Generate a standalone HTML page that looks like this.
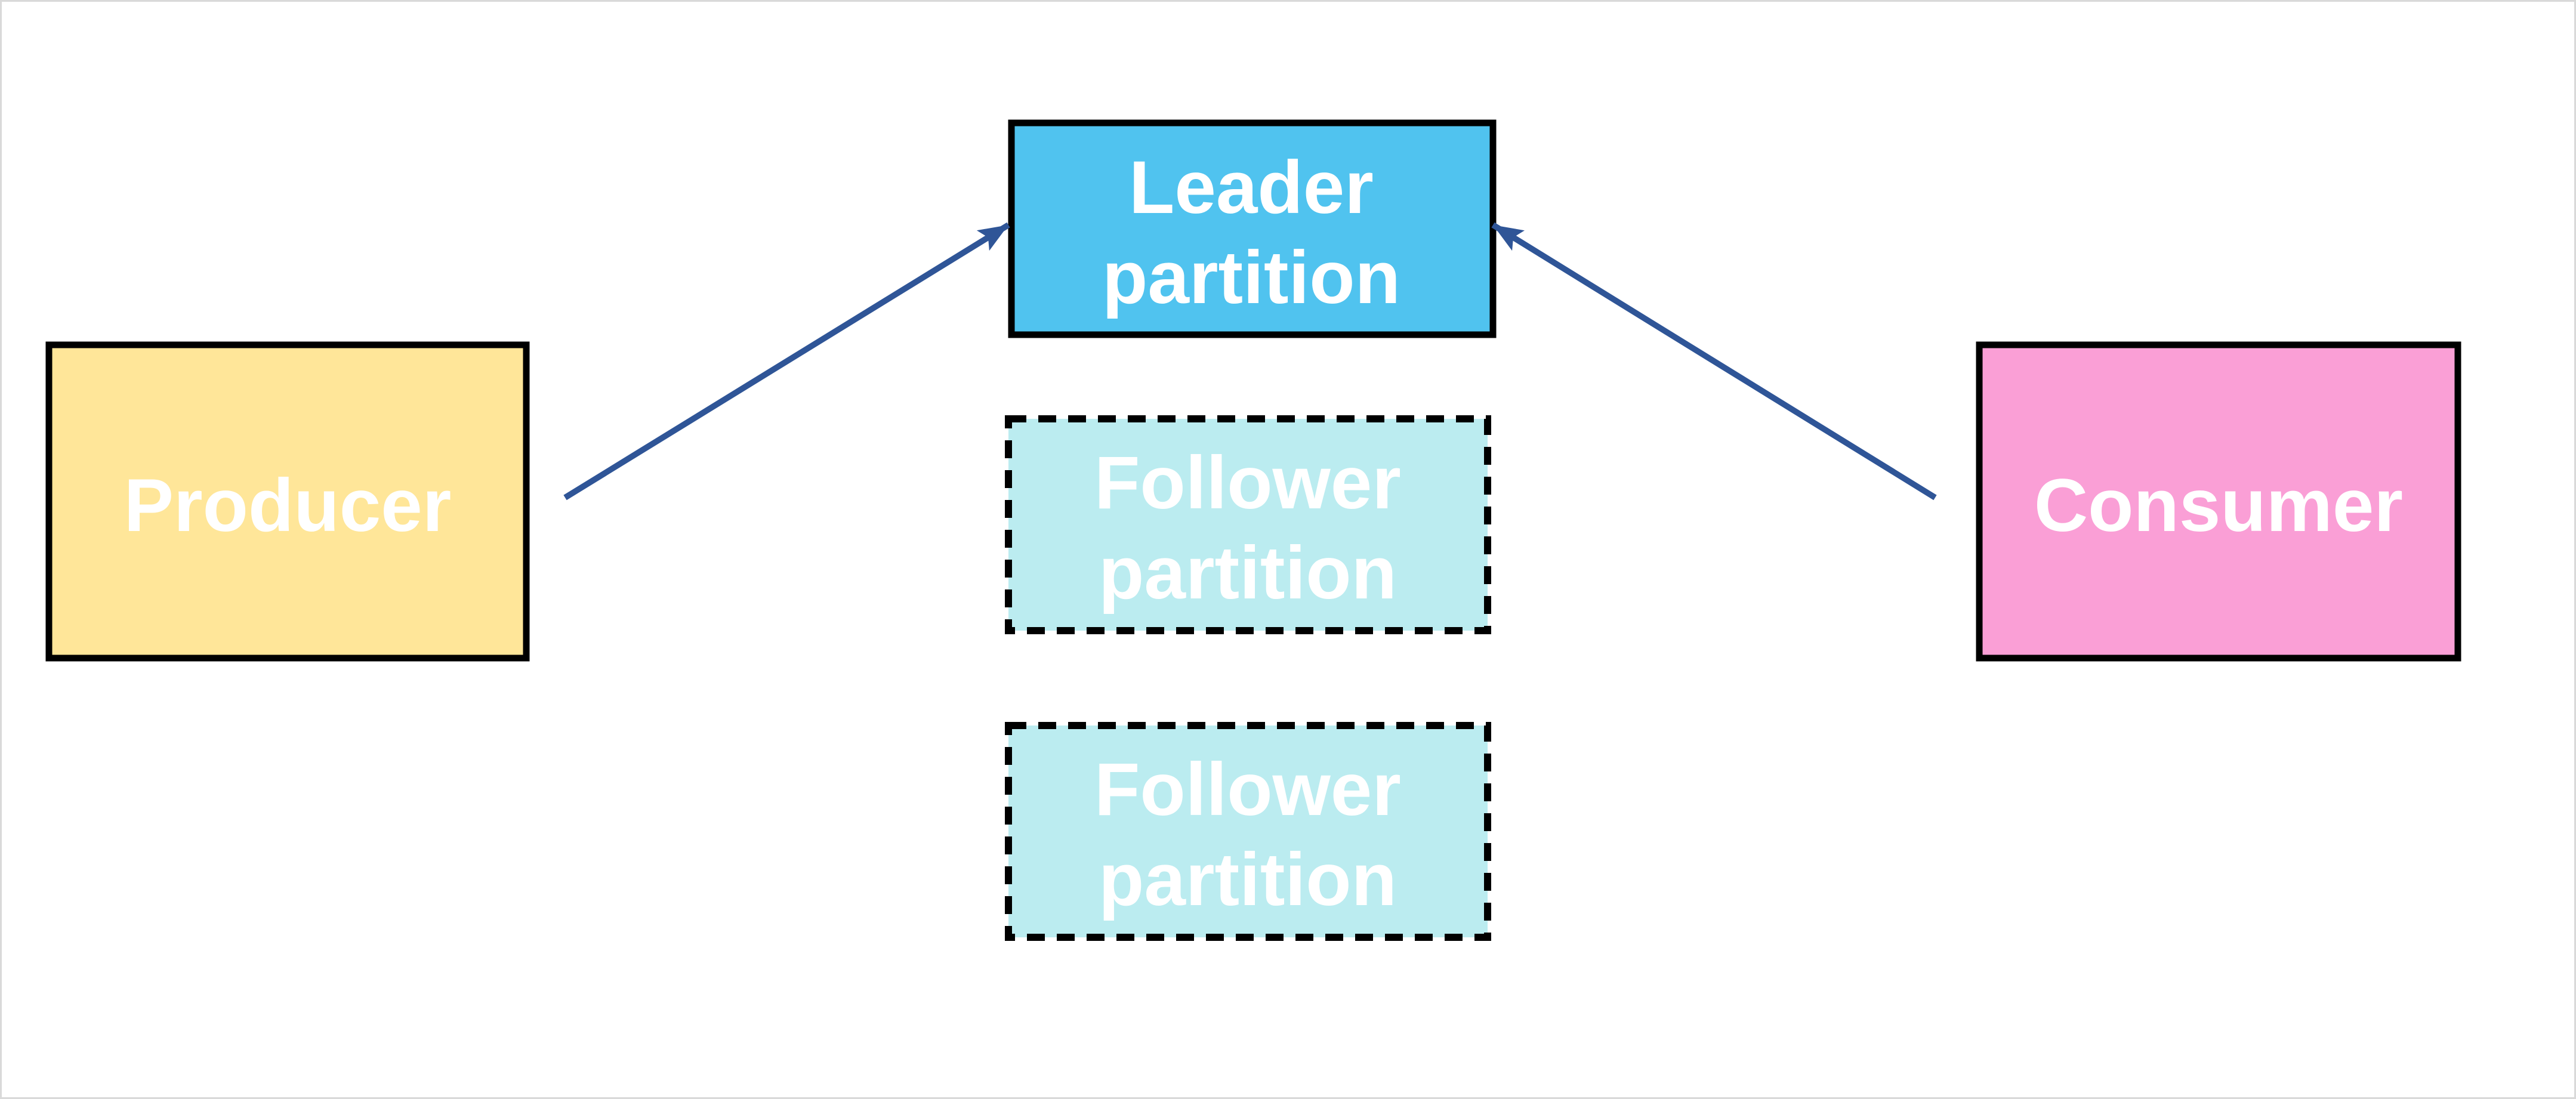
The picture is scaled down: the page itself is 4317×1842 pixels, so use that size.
<!DOCTYPE html>
<html><head><meta charset="utf-8"><style>
html,body{margin:0;padding:0;background:#fff;}
svg{display:block;}
text{font-family:"Liberation Sans","DejaVu Sans",sans-serif;font-weight:bold;fill:#fff;text-anchor:middle;}
</style></head><body>
<svg width="4317" height="1842" viewBox="0 0 4317 1842" xmlns="http://www.w3.org/2000/svg">
<rect x="1.5" y="1.5" width="4314" height="1839" fill="#fff" stroke="#d9d9d9" stroke-width="3"/>
<defs>
<marker id="ah" markerWidth="5" markerHeight="4" refX="5" refY="2" orient="auto" markerUnits="strokeWidth">
<path d="M0,0 L5,2 L0,4 L1,2 z" fill="#2f5597"/>
</marker>
</defs>
<!-- Producer -->
<rect x="82" y="578" width="800" height="525" fill="#ffe699" stroke="#000" stroke-width="11"/>
<text x="482" y="890" font-size="125">Producer</text>
<!-- Consumer -->
<rect x="3317" y="578" width="802" height="525" fill="#fa9fd6" stroke="#000" stroke-width="11"/>
<text x="3718" y="890" font-size="125">Consumer</text>
<!-- Leader -->
<rect x="1695" y="206" width="807" height="355" fill="#50c3ef" stroke="#000" stroke-width="11"/>
<text x="2097" y="357" font-size="125">Leader</text>
<text x="2097" y="508" font-size="125">partition</text>
<!-- Follower 1 -->
<rect x="1690" y="702" width="803" height="355" fill="#bbecf0" stroke="#000" stroke-width="12" stroke-dasharray="30,20"/>
<text x="2091" y="852" font-size="125">Follower</text>
<text x="2091" y="1003" font-size="125">partition</text>
<!-- Follower 2 -->
<rect x="1690" y="1216" width="803" height="355" fill="#bbecf0" stroke="#000" stroke-width="12" stroke-dasharray="30,20"/>
<text x="2091" y="1366" font-size="125">Follower</text>
<text x="2091" y="1517" font-size="125">partition</text>
<!-- Arrows -->
<line x1="947" y1="834" x2="1690" y2="377" stroke="#2f5597" stroke-width="10" marker-end="url(#ah)"/>
<line x1="3243" y1="834" x2="2502" y2="377" stroke="#2f5597" stroke-width="10" marker-end="url(#ah)"/>
</svg>
</body></html>
